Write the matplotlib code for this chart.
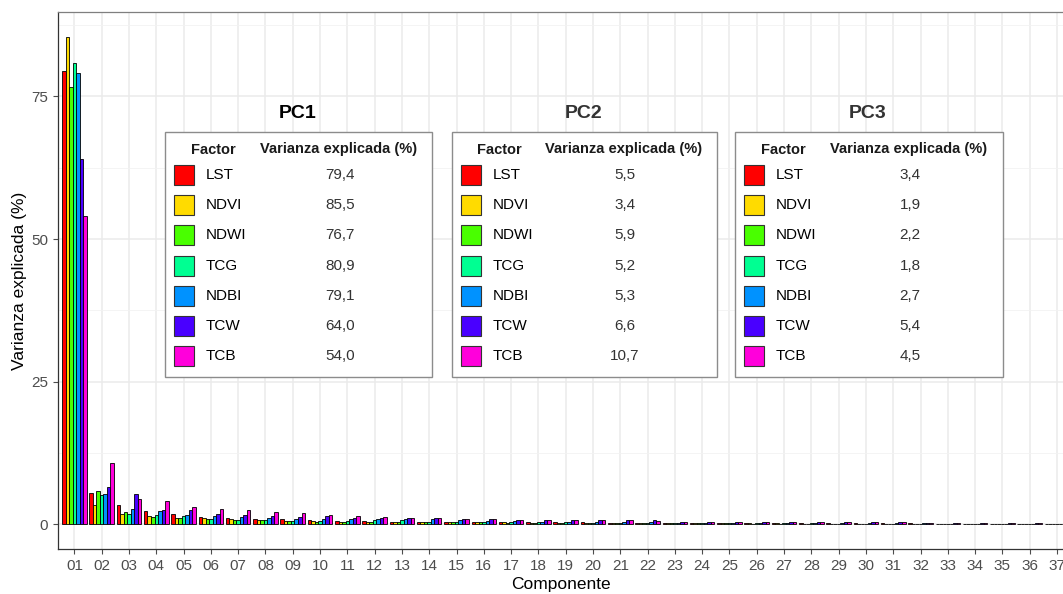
import numpy as np
import matplotlib.pyplot as plt
from matplotlib.patches import Rectangle

plt.rcParams['font.family'] = ['Liberation Sans', 'DejaVu Sans']

componentes = [f"{i:02d}" for i in range(1, 38)]
factores = ['LST', 'NDVI', 'NDWI', 'TCG', 'NDBI', 'TCW', 'TCB']
colores = ['#FF0000', '#FFDB00', '#49FF00', '#00FF92', '#0092FF', '#4900FF', '#FF00DB']

# varianza explicada (%) por componente, un vector por factor
lst = [79.4, 5.5, 3.4, 2.3, 1.75, 1.35, 1.2, 1.0, 0.9, 0.7,
       0.6, 0.6, 0.5, 0.5, 0.4, 0.4, 0.45, 0.4, 0.35, 0.35,
       0.3, 0.3, 0.3, 0.3, 0.25, 0.25, 0.25, 0.25, 0.2, 0.2,
       0.2, 0.2, 0.15, 0.15, 0.15, 0.1, 0.1]
ndvi = [85.5, 3.4, 1.9, 1.5, 1.2, 1.2, 1.0, 0.8, 0.65, 0.6,
        0.4, 0.5, 0.45, 0.45, 0.4, 0.35, 0.35, 0.3, 0.3, 0.3,
        0.25, 0.25, 0.2, 0.2, 0.2, 0.2, 0.2, 0.15, 0.15, 0.15,
        0.15, 0.1, 0.1, 0.1, 0.1, 0.1, 0.05]
ndwi = [76.7, 5.9, 2.2, 1.3, 1.1, 0.9, 0.8, 0.7, 0.65, 0.5,
        0.45, 0.5, 0.45, 0.4, 0.35, 0.35, 0.3, 0.3, 0.3, 0.25,
        0.25, 0.2, 0.2, 0.2, 0.2, 0.15, 0.15, 0.15, 0.15, 0.1,
        0.1, 0.1, 0.1, 0.1, 0.1, 0.05, 0.05]
tcg = [80.9, 5.2, 1.8, 1.7, 1.4, 0.9, 0.75, 0.7, 0.65, 0.65,
       0.6, 0.7, 0.7, 0.5, 0.45, 0.4, 0.4, 0.35, 0.35, 0.3,
       0.3, 0.25, 0.25, 0.2, 0.2, 0.2, 0.2, 0.2, 0.15, 0.15,
       0.15, 0.15, 0.1, 0.1, 0.1, 0.1, 0.05]
ndbi = [79.1, 5.3, 2.7, 2.3, 1.6, 1.4, 1.35, 1.1, 0.95, 1.0,
        1.0, 1.0, 0.9, 0.9, 0.7, 0.6, 0.55, 0.5, 0.45, 0.4,
        0.4, 0.35, 0.3, 0.3, 0.3, 0.25, 0.25, 0.25, 0.2, 0.2,
        0.2, 0.2, 0.15, 0.15, 0.15, 0.1, 0.1]
tcw = [64.0, 6.6, 5.4, 2.5, 2.5, 1.75, 1.7, 1.5, 1.3, 1.4,
       1.2, 1.2, 1.15, 1.1, 1.0, 0.95, 0.8, 0.8, 0.75, 0.75,
       0.7, 0.7, 0.5, 0.5, 0.45, 0.4, 0.4, 0.4, 0.4, 0.35,
       0.35, 0.3, 0.3, 0.25, 0.25, 0.2, 0.15]
tcb = [54.0, 10.7, 4.5, 4.1, 3.1, 2.7, 2.45, 2.1, 2.0, 1.6,
       1.4, 1.3, 1.15, 1.1, 1.0, 0.95, 0.8, 0.8, 0.7, 0.75,
       0.7, 0.65, 0.45, 0.5, 0.45, 0.4, 0.4, 0.4, 0.4, 0.35,
       0.35, 0.3, 0.3, 0.25, 0.25, 0.2, 0.15]

series = [lst, ndvi, ndwi, tcg, ndbi, tcw, tcb]

W, H = 1063, 594
fig = plt.figure(figsize=(W / 100, H / 100), dpi=100)
ax = fig.add_axes([58 / W, (H - 549) / H, (W - 58) / W, (549 - 12) / H])

x = np.arange(1, len(componentes) + 1)
ancho = 0.9 / len(factores)
for i, (vals, col) in enumerate(zip(series, colores)):
    ax.bar(x - 0.45 + ancho * (i + 0.5), vals, width=ancho, color=col,
           edgecolor='black', linewidth=0.6, zorder=3)

ax.set_xlim(0.4, 37.22)
ax.set_ylim(-4.3, 89.8)
ax.set_xticks(x)
ax.set_xticklabels(componentes)
ax.set_yticks([0, 25, 50, 75])
ax.set_yticks([12.5, 37.5, 62.5, 87.5], minor=True)
ax.grid(which='major', color='#EBEBEB', linewidth=1.1, zorder=0)
ax.grid(which='minor', axis='y', color='#F2F2F2', linewidth=0.6, zorder=0)
ax.tick_params(axis='both', which='major', labelsize=11, colors='#4D4D4D',
               length=3.5, width=0.8)
ax.tick_params(which='minor', length=0)
for s in ['left', 'bottom']:
    ax.spines[s].set_color('#333333')
    ax.spines[s].set_linewidth(0.9)
ax.spines['top'].set_color('#7F7F7F')
ax.spines['top'].set_linewidth(0.9)
ax.spines['right'].set_visible(False)
ax.set_xlabel('Componente', fontsize=12.5, labelpad=3)
ax.set_ylabel('Varianza explicada (%)', fontsize=12.5, labelpad=3)


def fx(px):
    return px / W


def fy(py):
    return 1 - py / H


def tabla(titulo, comp, x0, x1, factor_x, valor_x, color_titulo):
    caja = Rectangle((fx(x0), fy(377)), fx(x1) - fx(x0), fy(132) - fy(377),
                     transform=fig.transFigure, facecolor='white',
                     edgecolor='#8C8C8C', linewidth=1.0, zorder=5)
    fig.add_artist(caja)
    fig.text(fx((x0 + x1) / 2 - 1), fy(113), titulo, fontsize=14, fontweight='bold',
             ha='center', va='center', color=color_titulo, zorder=6)
    fig.text(fx(factor_x), fy(150), 'Factor', fontsize=10.5, fontweight='bold',
             ha='center', va='center', color='#1A1A1A', zorder=6)
    fig.text(fx(valor_x), fy(149), 'Varianza explicada (%)', fontsize=10.5,
             fontweight='bold', ha='center', va='center', color='#1A1A1A', zorder=6)
    for k, (nombre, col, vals) in enumerate(zip(factores, colores, series)):
        yc = 175 + 30.2 * k
        sw = Rectangle((fx(x0 + 9), fy(yc + 10)), fx(20), fy(0) - fy(20),
                       transform=fig.transFigure, facecolor=col,
                       edgecolor='#333333', linewidth=0.8, zorder=6)
        fig.add_artist(sw)
        fig.text(fx(x0 + 41), fy(yc), nombre, fontsize=11, ha='left',
                 va='center', color='black', zorder=6)
        fig.text(fx(valor_x + 1), fy(yc), f"{vals[comp]:.1f}".replace('.', ','),
                 fontsize=11, ha='center', va='center', color='#333333', zorder=6)


tabla('PC1', 0, 165, 432, 213, 339, 'black')
tabla('PC2', 1, 452, 717, 499, 624, '#333333')
tabla('PC3', 2, 735, 1003, 783, 909, '#333333')

fig.savefig('out.png', dpi=100)
